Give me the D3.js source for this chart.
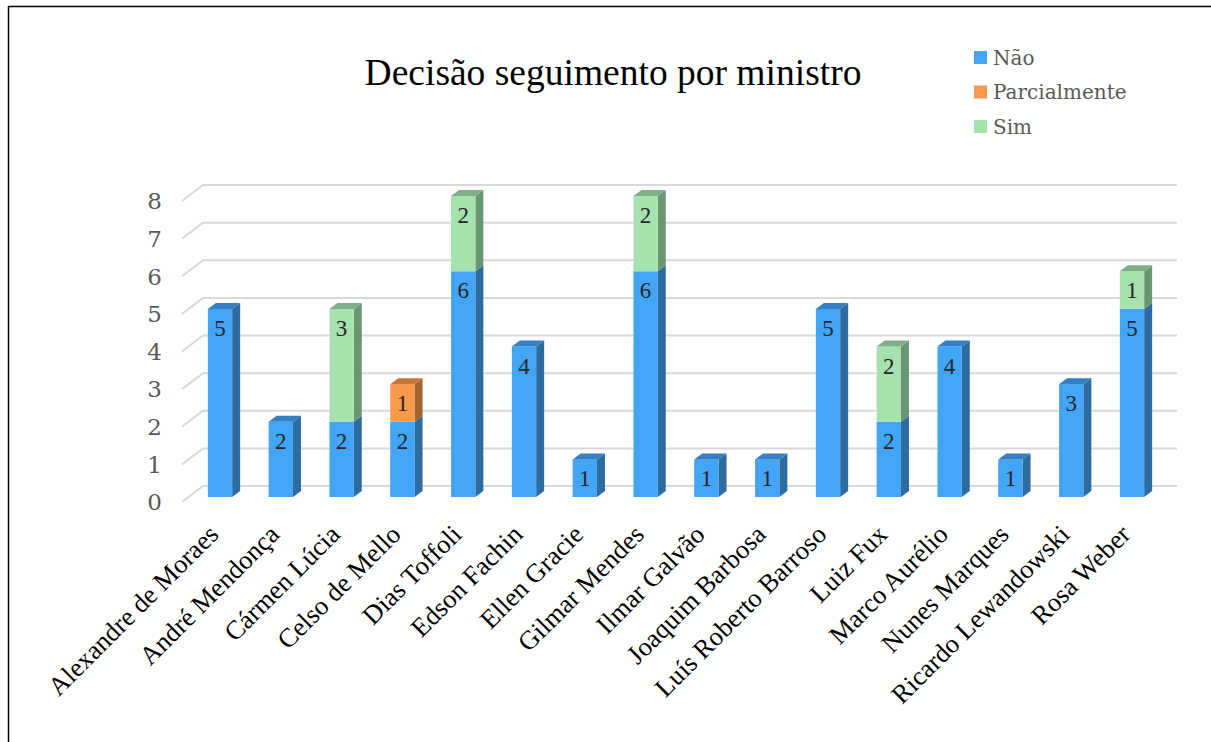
<!DOCTYPE html>
<html>
<head>
<meta charset="utf-8">
<script src="https://cdn.jsdelivr.net/npm/d3@7"></script>
<style>
  html, body { margin: 0; padding: 0; background: #fff; }
  svg { display: block; }
</style>
</head>
<body>
<svg id="chart" width="1211" height="742"></svg>
<script>
// ---- DATA ----
const categories = ["Alexandre de Moraes", "André Mendonça", "Cármen Lúcia", "Celso de Mello",
  "Dias Toffoli", "Edson Fachin", "Ellen Gracie", "Gilmar Mendes", "Ilmar Galvão",
  "Joaquim Barbosa", "Luís Roberto Barroso", "Luiz Fux", "Marco Aurélio", "Nunes Marques",
  "Ricardo Lewandowski", "Rosa Weber"];
const seriesNames = ["Não", "Parcialmente", "Sim"];
const naoValues          = [5, 2, 2, 2, 6, 4, 1, 6, 1, 1, 5, 2, 4, 1, 3, 5];
const parcialmenteValues = [0, 0, 0, 1, 0, 0, 0, 0, 0, 0, 0, 0, 0, 0, 0, 0];
const simValues          = [0, 0, 3, 0, 2, 0, 0, 2, 0, 0, 0, 2, 0, 0, 0, 1];
const yTicks = [0, 1, 2, 3, 4, 5, 6, 7, 8];
const title = "Decisão seguimento por ministro";

// ---- STYLE ----
const colors = {
  "Não":          { front: "#42A5F5", side: "#2D6BA1", top: "#3380C4" },
  "Parcialmente": { front: "#F8994B", side: "#A5632F", top: "#C77637" },
  "Sim":          { front: "#A6E2AD", side: "#6A9671", top: "#7FAF86" }
};

const svg = d3.select("#chart");

// frame
svg.append("line").attr("x1", 8).attr("y1", 6.5).attr("x2", 1211).attr("y2", 6.5)
  .attr("stroke", "#000").attr("stroke-width", 1.5);
svg.append("line").attr("x1", 8.5).attr("y1", 6).attr("x2", 8.5).attr("y2", 742)
  .attr("stroke", "#000").attr("stroke-width", 1.5);

// scales
const x = d3.scalePoint().domain(categories).range([220, 1132]);
const barW = x.step() * 0.4;
const yFront = d3.scaleLinear().domain([0, 8]).range([497, 196]);  // bar front plane
const yBack  = d3.scaleLinear().domain([0, 8]).range([486, 185]);  // back wall
const yLeft  = d3.scaleLinear().domain([0, 8]).range([502, 201]);  // front edge of side wall
const wallL = 182, wallBackL = 203, wallR = 1177;
const dx = 8, dy = -6; // bar depth offsets

// gridlines
const grid = svg.append("g");
yTicks.forEach(t => {
  grid.append("path")
    .attr("d", `M${wallL},${yLeft(t)}L${wallBackL},${yBack(t)}L${wallR},${yBack(t)}`)
    .attr("fill", "none").attr("stroke", "#D9D9D9").attr("stroke-width", 2);
});

// y tick labels
svg.append("g").selectAll("text").data(yTicks).join("text")
  .attr("x", 162).attr("y", d => yLeft(d))
  .attr("dy", "0.36em")
  .attr("text-anchor", "end")
  .attr("font-family", "DejaVu Serif")
  .attr("font-size", 23)
  .attr("fill", "#595959")
  .text(d => d);

// stacked data
const rows = categories.map((c, i) => ({
  cat: c, "Não": naoValues[i], "Parcialmente": parcialmenteValues[i], "Sim": simValues[i]
}));
const stack = d3.stack().keys(seriesNames)(rows);

const bars = svg.append("g");
const labels = [];
categories.forEach((c, i) => {
  const cx = x(c);
  const x0 = cx - barW / 2, x1 = cx + barW / 2;
  let topKey = null;
  stack.forEach(s => { if (s[i][1] - s[i][0] > 0) topKey = s.key; });
  stack.forEach(s => {
    const v0 = s[i][0], v1 = s[i][1];
    if (v1 - v0 <= 0) return;
    const col = colors[s.key];
    const yt = yFront(v1), yb = yFront(v0);
    bars.append("path")
      .attr("d", `M${x1},${yb}L${x1 + dx},${yb + dy}L${x1 + dx},${yt + dy}L${x1},${yt}Z`)
      .attr("fill", col.side);
    bars.append("rect").attr("x", x0).attr("y", yt).attr("width", barW).attr("height", yb - yt)
      .attr("fill", col.front);
    if (s.key === topKey) {
      bars.append("path")
        .attr("d", `M${x0},${yt}L${x0 + dx},${yt + dy}L${x1 + dx},${yt + dy}L${x1},${yt}Z`)
        .attr("fill", col.top);
    }
    labels.push({ x: cx, y: Math.min(yt + 19, (yt + yb) / 2), v: v1 - v0 });
  });
});

svg.append("g").selectAll("text").data(labels).join("text")
  .attr("x", d => d.x).attr("y", d => d.y)
  .attr("dy", "0.35em")
  .attr("text-anchor", "middle")
  .attr("font-family", "Liberation Serif")
  .attr("font-size", 23)
  .attr("fill", "#262626")
  .text(d => d.v);

// category labels
svg.append("g").selectAll("text").data(categories).join("text")
  .attr("transform", d => `translate(${x(d)},${536}) rotate(-45)`)
  .attr("text-anchor", "end")
  .attr("font-family", "Liberation Serif")
  .attr("font-size", 26.5)
  .attr("fill", "#000")
  .text(d => d);

// title
svg.append("text")
  .attr("x", 613).attr("y", 85)
  .attr("text-anchor", "middle")
  .attr("font-family", "Liberation Serif")
  .attr("font-size", 37.5)
  .attr("fill", "#000")
  .text(title);

// legend
const legend = svg.append("g");
seriesNames.forEach((s, i) => {
  const ly = 51 + i * 34.5;
  legend.append("rect").attr("x", 974).attr("y", ly).attr("width", 13).attr("height", 13)
    .attr("fill", colors[s].front);
  legend.append("text").attr("x", 993).attr("y", ly + 13.5)
    .attr("font-family", "DejaVu Serif").attr("font-size", 20).attr("fill", "#595959")
    .text(s);
});
</script>
</body>
</html>
